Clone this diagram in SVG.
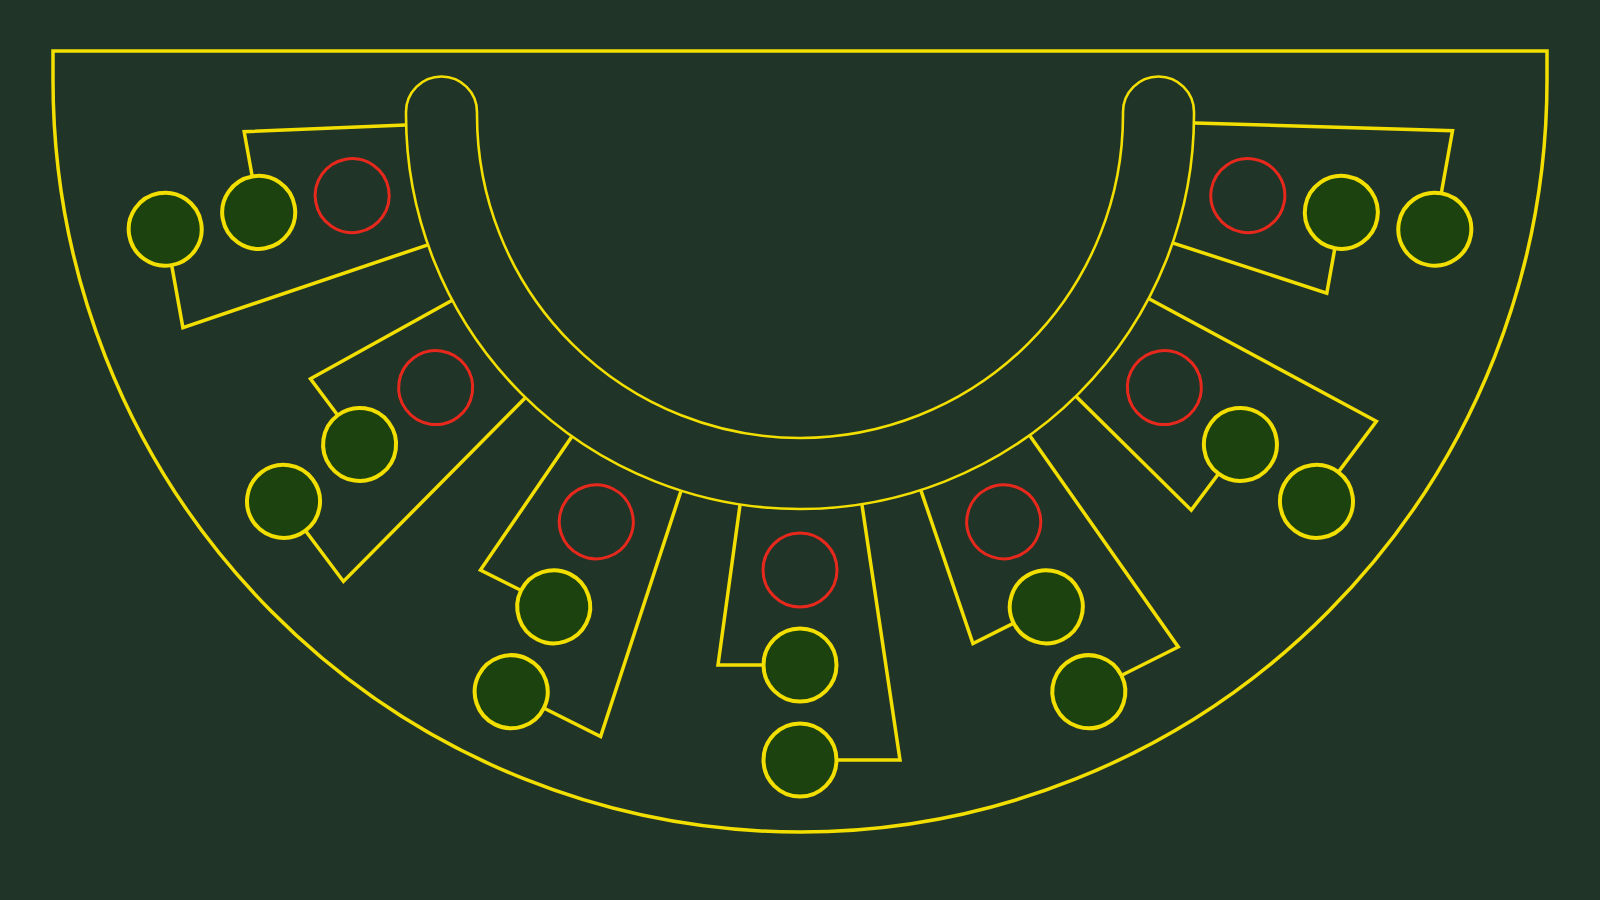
<svg xmlns="http://www.w3.org/2000/svg" width="1600" height="900" viewBox="0 0 1600 900">
  <defs>
    <style>
      .ln { fill: none; stroke: #f2df00; stroke-width: 3.5; stroke-linejoin: miter; }
      .thin { fill: none; stroke: #f2df00; stroke-width: 2.6; }
      .card { fill: none; stroke: #e6291c; stroke-width: 3; }
      .bet { fill: #1c420f; stroke: #f2df00; stroke-width: 4; }
    </style>
    <g id="seat">
      <path class="ln" d="M740,505 L718,665 L800,665"/>
      <path class="ln" d="M862,505 L900,760 L800,760"/>
      <circle class="card" cx="800" cy="570" r="37"/>
      <circle class="bet" cx="800" cy="665" r="36.5"/>
      <circle class="bet" cx="800" cy="760" r="36.5"/>
    </g>
  </defs>
  <rect width="1600" height="900" fill="#213428"/>
  <g id="table">
    <path class="ln" d="M53,51 L1547,51 L1547,80 A747,752 0 0 1 53,80 Z"/>
  </g>
  <g id="dealer-rail">
    <path class="thin" d="M406,115 L406,112 A35.5,35.5 0 0 1 477,112 L477,115 A323,323 0 0 0 1123,115 L1123,112 A35.5,35.5 0 0 1 1194,112 L1194,115 A394,394 0 0 1 406,115 Z"/>
  </g>
  <g id="seat-1" transform="rotate(79.8 800 115)"><use href="#seat"/></g>
  <g id="seat-2" transform="rotate(53.2 800 115)"><use href="#seat"/></g>
  <g id="seat-3" transform="rotate(26.6 800 115)"><use href="#seat"/></g>
  <g id="seat-4"><use href="#seat"/></g>
  <g id="seat-5" transform="rotate(-26.6 800 115)"><use href="#seat"/></g>
  <g id="seat-6" transform="rotate(-53.2 800 115)"><use href="#seat"/></g>
  <g id="seat-7" transform="rotate(-79.8 800 115)"><use href="#seat"/></g>
</svg>
